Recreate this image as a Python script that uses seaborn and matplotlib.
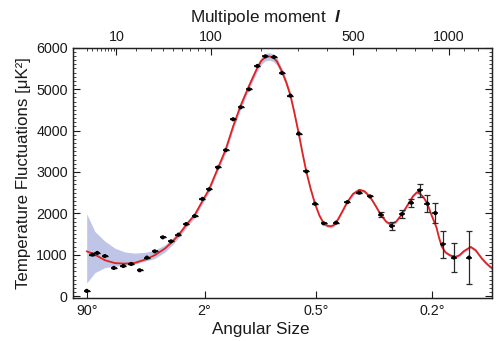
import numpy as np
import pandas as pd
import matplotlib
matplotlib.use("Agg")
import matplotlib.pyplot as plt
import seaborn as sns
from matplotlib.ticker import FixedLocator, NullLocator, MultipleLocator, NullFormatter

# ---------------- data ----------------
# measured points: multipole l, value [uK^2], error bar half-length
pts_l = [2, 3, 4, 6, 9, 13, 17, 22, 27, 33, 40, 48, 56, 65, 76, 87, 97, 111, 125, 139,
         154, 172, 191, 210, 232, 254, 278, 303, 327, 356, 386, 432, 477, 527, 574, 624,
         677, 730, 780, 826, 871, 918, 963, 1033, 1134]
pts_v = [130, 1005, 1045, 970, 683, 730, 778, 627, 932, 1084, 1422, 1325, 1487, 1742, 1935,
         2350, 2580, 3108, 3525, 4272, 4561, 4995, 5559, 5790, 5776, 5390, 4843, 3928, 3012,
         2234, 1759, 1776, 2272, 2499, 2410, 1969, 1694, 1983, 2258, 2554, 2234, 2007, 1253,
         933, 933]
pts_err = [0, 0, 0, 0, 0, 0, 0, 0, 0, 0, 0, 0, 0, 0, 0, 0, 0, 0, 0, 0,
           0, 0, 0, 0, 0, 0, 0, 0, 0, 0, 0, 0, 0, 0, 0, 60,
           90, 100, 100, 150, 205, 245, 325, 357, 630]

# best-fit model curve
curve_l = [2, 3.5, 6, 9.4, 13.8, 19, 25.6, 33, 42, 50, 57, 65, 76, 87, 97, 111, 125, 139,
           154, 172, 191, 200, 210, 220, 230, 240, 254, 266, 278, 290, 303, 315, 327, 341,
           356, 371, 386, 400, 413, 425, 440, 455, 477, 500, 527, 550, 574, 600, 624, 650,
           672, 700, 730, 760, 790, 811, 830, 850, 871, 895, 924, 940, 957, 980, 1008, 1041,
           1070, 1100, 1146, 1180, 1224, 1260, 1300]
curve_v = [1085, 1005, 870, 800, 787, 805, 884, 990, 1150, 1330, 1500, 1720, 1960, 2300, 2580,
           3080, 3540, 4100, 4600, 5080, 5520, 5680, 5770, 5790, 5760, 5670, 5420, 5160, 4850,
           4420, 3930, 3450, 3010, 2600, 2230, 1950, 1760, 1700, 1690, 1720, 1860, 2030, 2280,
           2470, 2570, 2530, 2400, 2180, 1970, 1800, 1735, 1800, 1980, 2200, 2420, 2510, 2470,
           2380, 2230, 1960, 1670, 1420, 1200, 1060, 990, 945, 990, 1090, 1190, 1110, 910, 780,
           670]
# cosmic-variance band (lower / upper edge at the curve samples)
band_lo = [320, 570, 690, 725, 750, 775, 845, 910, 1065, 1255, 1430, 1650, 1890, 2230, 2510,
           3010, 3460, 4020, 4510, 4990, 5430, 5590, 5680, 5700, 5670, 5580, 5340, 5080, 4780,
           4350, 3860, 3390, 2950, 2550, 2180, 1905, 1715, 1660, 1650, 1680, 1820, 1990, 2240,
           2430, 2530, 2490, 2360, 2140, 1935, 1765, 1700, 1765, 1945, 2165, 2385, 2475, 2435,
           2345, 2195, 1925, 1635, 1385, 1165, 1025, 955, 910, 955, 1055, 1155, 1075, 875, 745,
           635]
band_hi = [1990, 1560, 1330, 1160, 1067, 1040, 1060, 1108, 1240, 1410, 1570, 1790, 2030, 2370,
           2650, 3150, 3620, 4180, 4690, 5170, 5610, 5770, 5860, 5880, 5850, 5760, 5500, 5240,
           4920, 4490, 4000, 3510, 3070, 2650, 2280, 1995, 1805, 1740, 1730, 1760, 1900, 2070,
           2320, 2510, 2610, 2570, 2440, 2220, 2005, 1835, 1770, 1835, 2015, 2235, 2455, 2545,
           2505, 2415, 2265, 1995, 1705, 1455, 1235, 1095, 1025, 980, 1025, 1125, 1225, 1145,
           945, 815, 705]

top_ticks = [10, 100, 500, 1000]
top_labels = ["10", "100", "500", "1000"]
top_minor = [2, 3, 4, 5, 6, 7, 8, 9, 20, 30, 40, 50, 60, 70, 80, 90,
             200, 300, 400, 600, 700, 800, 900, 1100, 1200]
bottom_ticks = [2, 90, 360, 900]
bottom_labels = ["90°", "2°", "0.5°", "0.2°"]
y_ticks = [0, 1000, 2000, 3000, 4000, 5000, 6000]

# ---------------- style ----------------
sns.set_theme(style="ticks")
plt.rcParams["font.family"] = ["Liberation Sans", "DejaVu Sans"]
plt.rcParams["mathtext.fontset"] = "custom"
plt.rcParams["mathtext.it"] = "Liberation Sans:italic:bold"
plt.rcParams["mathtext.rm"] = "Liberation Sans"

TXT = "#1a1a1a"
fig = plt.figure(figsize=(5.0, 3.41), dpi=100)
ax = fig.add_axes([0.1466, 0.1252, 0.838, 0.735])

fwd = lambda x: np.sign(x) * np.abs(x) ** 0.4
inv = lambda x: np.sign(x) * np.abs(x) ** 2.5
ax.set_xscale("function", functions=(fwd, inv))

curve = pd.DataFrame({"l": curve_l, "v": curve_v, "lo": band_lo, "hi": band_hi})
pts = pd.DataFrame({"l": pts_l, "v": pts_v, "err": pts_err})

ax.fill_between(curve["l"], curve["lo"], curve["hi"], color="#bec5e6", lw=0, zorder=1)
sns.lineplot(data=curve, x="l", y="v", ax=ax, color="#e0231f", lw=1.3, sort=True,
             estimator=None, zorder=2)
ax.errorbar(pts["l"], pts["v"], yerr=pts["err"], fmt="none", ecolor="#2a2a2a",
            elinewidth=0.9, capsize=2.2, capthick=0.9, zorder=3)
sns.scatterplot(data=pts, x="l", y="v", ax=ax, color="black", s=9, marker="o",
                edgecolor="none", zorder=4)
sns.scatterplot(data=pts, x="l", y="v", ax=ax, color="black", s=14, marker="_",
                linewidth=1.1, zorder=4)

ax.set_xlim(0.54, 1300)
ax.set_ylim(-50, 6000)

# bottom axis: angular size
ax.xaxis.set_major_locator(FixedLocator(bottom_ticks))
ax.set_xticklabels(bottom_labels)
ax.xaxis.set_minor_locator(NullLocator())
ax.set_ylabel("Temperature Fluctuations [μK²]", fontsize=12.2, color=TXT, labelpad=4)

ax.yaxis.set_major_locator(FixedLocator(y_ticks))
ax.yaxis.set_minor_locator(MultipleLocator(100))
ax.tick_params(axis="both", which="major", direction="in", length=5, width=0.8,
               labelsize=10.3, colors=TXT, pad=4)
ax.tick_params(axis="y", which="both", right=True, direction="in")
ax.tick_params(axis="y", which="minor", length=2.5, width=0.6)
ax.tick_params(axis="x", which="both", top=False)

# top axis: multipole moment
ax2 = ax.twiny()
ax2.set_xscale("function", functions=(fwd, inv))
ax2.set_xlim(ax.get_xlim())
ax2.xaxis.set_major_locator(FixedLocator(top_ticks))
ax2.set_xticklabels(top_labels)
ax2.xaxis.set_minor_locator(FixedLocator(top_minor))
ax2.xaxis.set_minor_formatter(NullFormatter())
ax2.tick_params(axis="x", which="major", direction="in", length=5, width=0.8,
                labelsize=10.3, colors=TXT, pad=3)
ax2.tick_params(axis="x", which="minor", direction="in", length=2.5, width=0.6)
ax2.set_xlabel("Multipole moment  $l$", fontsize=12.3, color=TXT)
ax2.xaxis.set_label_coords(0.46, 1.103)

for a in (ax, ax2):
    for s in a.spines.values():
        s.set_color("#222222")
        s.set_linewidth(0.9)
        s.set_visible(True)

ax.set_xlabel("Angular Size", fontsize=12.3, color=TXT)
ax.xaxis.set_label_coords(0.448, -0.095)
fig.savefig("out.png", dpi=100)
